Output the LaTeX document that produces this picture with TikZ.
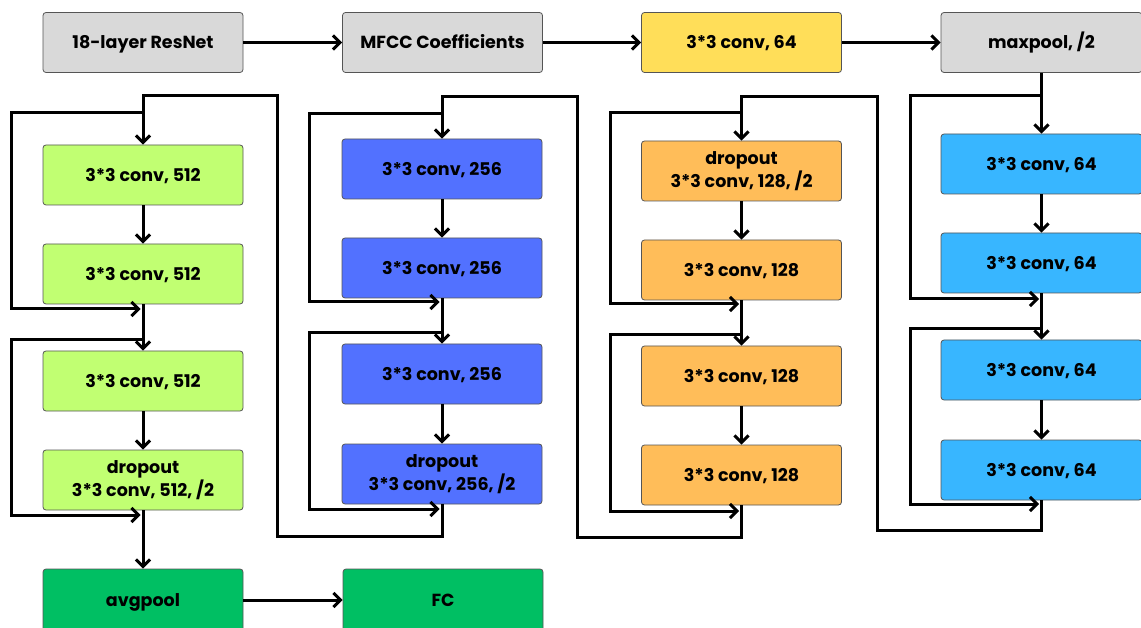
\documentclass[tikz,border=0pt]{standalone}
\usepackage{fontspec}
\setmainfont{Poppins}
\usetikzlibrary{arrows.meta}
\definecolor{cgrey}{HTML}{D9D9D9}
\definecolor{cyellow}{HTML}{FFDE59}
\definecolor{clime}{HTML}{C1FF72}
\definecolor{cblue}{HTML}{5271FF}
\definecolor{corange}{HTML}{FFBD59}
\definecolor{csky}{HTML}{38B6FF}
\definecolor{cgreen}{HTML}{00BF63}
\definecolor{cborder}{HTML}{555555}
\begin{document}
\begin{tikzpicture}[x=1pt,y=-1pt,
  box/.style={draw=cborder, line width=0.8pt, rounded corners=3pt, minimum width=200pt, minimum height=60pt, inner sep=0pt, align=center, font=\fontsize{17.5}{23}\selectfont\bfseries},
  one/.style={box, text height=12.4pt, text depth=0pt},
  two/.style={box},
  arr/.style={line width=3pt, -{Straight Barb[length=7pt,width=14pt,line width=3pt]}}]
\clip (0,0) rectangle (1141,628);
% top row
\node[one, fill=cgrey] (t1) at (143,42.5) {18-layer ResNet};
\node[one, fill=cgrey] (t2) at (442.5,42.5) {MFCC Coefficients};
\node[one, fill=cyellow] (t3) at (741.5,42.5) {3*3 conv, 64};
\node[one, fill=cgrey, minimum width=201pt] (t4) at (1041.5,42.5) {maxpool, /2};
% column 1
\node[one, fill=clime] (a1) at (143,175) {3*3 conv, 512};
\node[one, fill=clime] (a2) at (143,274) {3*3 conv, 512};
\node[one, fill=clime] (a3) at (143,381) {3*3 conv, 512};
\node[two, fill=clime] (a4) at (143,480) {dropout\\3*3 conv, 512, /2};
\node[one, fill=cgreen, minimum height=62pt] (avg) at (143,600) {avgpool};
\node[one, fill=cgreen, minimum height=62pt] (fc) at (443,600) {FC};
% column 2
\node[one, fill=cblue] (b1) at (442,169) {3*3 conv, 256};
\node[one, fill=cblue] (b2) at (442,268) {3*3 conv, 256};
\node[one, fill=cblue] (b3) at (442,374) {3*3 conv, 256};
\node[two, fill=cblue] (b4) at (442,474) {dropout\\3*3 conv, 256, /2};
% column 3
\node[two, fill=corange] (c1) at (741.5,171) {dropout\\3*3 conv, 128, /2};
\node[one, fill=corange] (c2) at (741.5,270) {3*3 conv, 128};
\node[one, fill=corange] (c3) at (741.5,376) {3*3 conv, 128};
\node[one, fill=corange] (c4) at (741.5,475) {3*3 conv, 128};
% column 4
\node[one, fill=csky, minimum width=201pt] (d1) at (1041.5,164) {3*3 conv, 64};
\node[one, fill=csky, minimum width=201pt] (d2) at (1041.5,263) {3*3 conv, 64};
\node[one, fill=csky, minimum width=201pt] (d3) at (1041.5,370) {3*3 conv, 64};
\node[one, fill=csky, minimum width=201pt] (d4) at (1041.5,470) {3*3 conv, 64};
% junction coordinates
\coordinate (j4a) at (1041.5,96);
\coordinate (j4b) at (1039,299);
\coordinate (j4c) at (1041.5,329);
\coordinate (j4d) at (1039,504);
\coordinate (j3a) at (741.5,113);
\coordinate (j3b) at (739,304);
\coordinate (j3c) at (741.5,335);
\coordinate (j3d) at (739,511);
\coordinate (j2a) at (442,114);
\coordinate (j2b) at (439.5,302);
\coordinate (j2c) at (442,333);
\coordinate (j2d) at (439.5,509);
\coordinate (j1a) at (143,113);
\coordinate (j1b) at (140.5,309);
\coordinate (j1c) at (143,340);
\coordinate (j1d) at (140.5,515);
% top row arrows
\draw[arr] (t1) -- (t2);
\draw[arr] (t2) -- (t3);
\draw[arr] (t3) -- (t4);
% column 4
\draw[arr] (t4.south) -- (d1.north);
\draw[arr] (d1) -- (d2);
\draw[arr] (d2.south) -- (d3.north);
\draw[arr] (d3) -- (d4);
\draw[arr] (j4a) -- (910,96) -- (910,299) -- (j4b);
\draw[arr] (j4c) -- (910,329) -- (910,504) -- (j4d);
\draw[arr] (d4.south) -- (1041.5,530) -- (877,530) -- (877,97) -- (741.5,97) -- (c1.north);
% column 3
\draw[arr] (c1) -- (c2);
\draw[arr] (c2.south) -- (c3.north);
\draw[arr] (c3) -- (c4);
\draw[arr] (j3a) -- (610,113) -- (610,304) -- (j3b);
\draw[arr] (j3c) -- (610,335) -- (610,511) -- (j3d);
\draw[arr] (c4.south) -- (741.5,537) -- (577,537) -- (577,97) -- (442,97) -- (b1.north);
% column 2
\draw[arr] (b1) -- (b2);
\draw[arr] (b2.south) -- (b3.north);
\draw[arr] (b3) -- (b4);
\draw[arr] (j2a) -- (309,114) -- (309,302) -- (j2b);
\draw[arr] (j2c) -- (309,333) -- (309,509) -- (j2d);
\draw[arr] (b4.south) -- (442,536) -- (277,536) -- (277,96) -- (143,96) -- (a1.north);
% column 1
\draw[arr] (a1) -- (a2);
\draw[arr] (a2.south) -- (a3.north);
\draw[arr] (a3) -- (a4);
\draw[arr] (j1a) -- (11,113) -- (11,309) -- (j1b);
\draw[arr] (j1c) -- (11,340) -- (11,515) -- (j1d);
\draw[arr] (a4.south) -- (avg.north);
\draw[arr] (avg) -- (fc);
\end{tikzpicture}
\end{document}
